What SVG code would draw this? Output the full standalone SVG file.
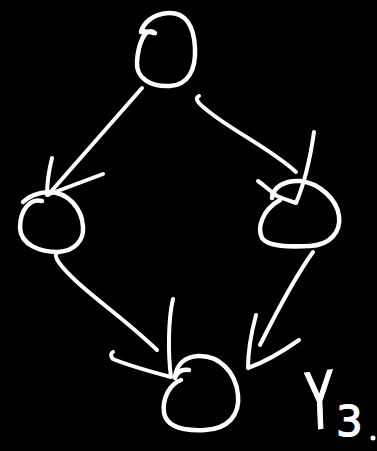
<svg xmlns="http://www.w3.org/2000/svg" width="377" height="451" viewBox="0 0 377 451">
<style>
.n{fill:none;stroke:#fff;stroke-width:4.5;stroke-linecap:round;stroke-linejoin:round}
.c{fill:none;stroke:#fff;stroke-width:4;stroke-linecap:round;stroke-linejoin:round}
.t{fill:#fff;stroke:#fff;stroke-width:1.2;font-family:"DejaVu Sans",sans-serif}
</style>
<rect width="377" height="451" fill="#000"/>
<g id="node-top"><path class="n" d="M155,33 C145,25 138,45 137,62 C136,78 150,87 170,86 C188,85 196,70 195,48 C194,25 185,12 168,13 C152,14 143,24 141,32 M141,32 C145,31 150,32 154,33"/></g>
<g id="node-left"><path class="n" d="M42,201 C30,198 20,210 20,228 C21,245 40,252 58,252 C75,251 84,240 83,227 C82,208 68,192 48,192 C36,193 28,197 23,202"/></g>
<g id="node-right"><path class="n" d="M280,200 C262,210 257,228 262,238 C268,247 290,247 310,246 C330,245 341,232 339,216 C337,200 320,183 300,181 C285,180 273,187 272,198"/></g>
<g id="node-bottom"><path class="n" d="M181,380 C170,384 162,398 164,413 C167,428 185,431 205,430 C228,429 240,415 238,395 C236,373 220,355 198,356 C184,357 176,365 175,378 C177,372 182,369 189,370"/></g>
<g id="connectors">
<path class="c" d="M142,88 L48,195"/>
<path class="c" d="M52,158 C49,170 47,183 47,195 L103,174"/>
<path class="c" d="M199,96 C193,99 200,105 212,114 C235,132 272,150 296,172"/>
<path class="c" d="M314,132 C310,160 305,182 296,203 C287,200 279,197 272,194 M258,181 C265,186 270,191 276,195"/>
<path class="c" d="M57,253 C53,256 60,266 75,280 C96,300 126,320 157,350"/>
<path class="c" d="M173,299 C168,320 168,355 171,377 C152,372 130,366 113,359 C110,356 111,353 113,352"/>
<path class="c" d="M313,252 C300,270 285,295 260,345"/>
<path class="c" d="M256,315 C252,330 248,350 248,368 C265,362 282,352 299,340"/>
</g>
<g id="label">
<text class="t" x="0" y="0" font-size="60" transform="translate(307,430) scale(0.75,1.3) rotate(-4)">Y</text>
<text class="t" x="336" y="436" font-size="42">3</text>
<circle cx="373" cy="438" r="2.5" fill="#fff"/>
</g>
</svg>
